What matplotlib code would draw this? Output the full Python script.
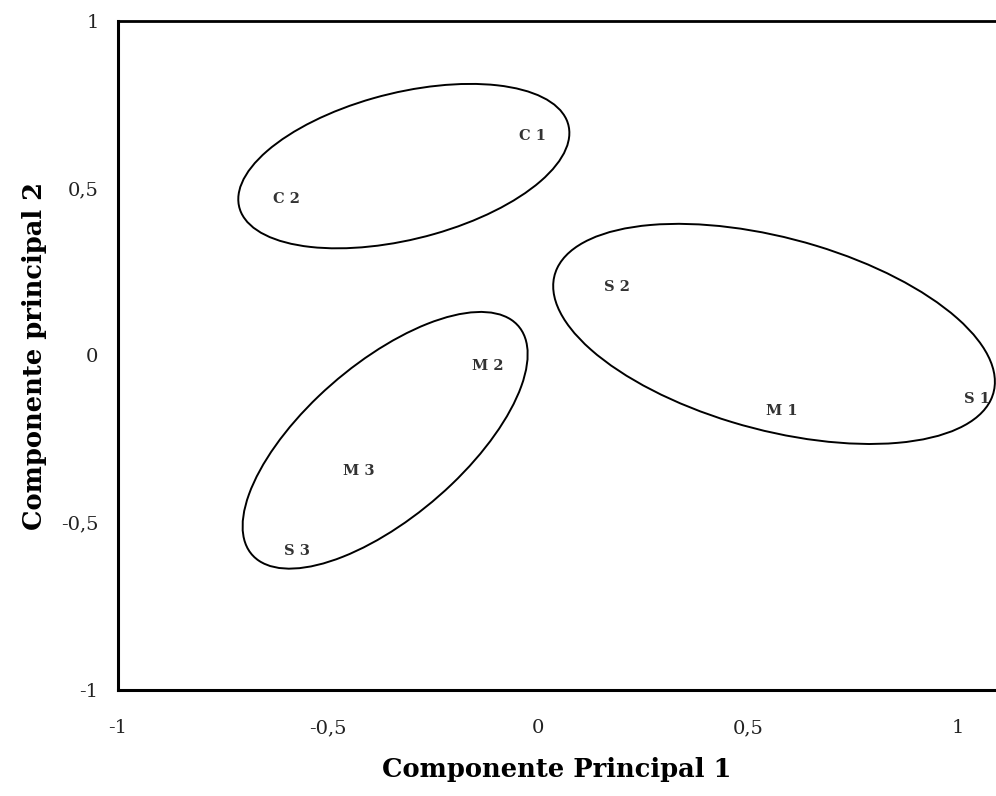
import matplotlib
matplotlib.use("Agg")
import matplotlib.pyplot as plt
from matplotlib.patches import Ellipse

# Sample scores (label positions)
labels = ["C 1", "C 2", "S 2", "M 1", "S 1", "M 2", "M 3", "S 3"]
pc1 = [-0.012, -0.60, 0.188, 0.58, 1.045, -0.12, -0.426, -0.574]
pc2 = [0.656, 0.467, 0.204, -0.165, -0.13, -0.033, -0.344, -0.584]

# Group ellipses: centre x, centre y, width, height, angle (data space)
ell_cx = [-0.3195, 0.562, -0.364]
ell_cy = [0.566, 0.0644, -0.2536]
ell_w = [0.823, 1.105, 0.938]
ell_h = [0.431, 0.564, 0.412]
ell_ang = [19.7, -20.9, 50.2]

xticks = [-1, -0.5, 0, 0.5, 1]
xticklabels = ["-1", "-0,5", "0", "0,5", "1"]
yticks = [-1, -0.5, 0, 0.5, 1]
yticklabels = ["-1", "-0,5", "0", "0,5", "1"]

plt.rcParams['font.family'] = ['DejaVu Serif']

fig = plt.figure(figsize=(9.96, 7.96), dpi=100)
ax = fig.add_axes([0.1185, 0.1332, 0.8815, 0.8405])
ax.set_xlim(-1, 1.0905)
ax.set_ylim(-1, 1)

for cx, cy, w, h, a in zip(ell_cx, ell_cy, ell_w, ell_h, ell_ang):
    ax.add_patch(Ellipse((cx, cy), w, h, angle=a, fill=False,
                         edgecolor='black', linewidth=1.4))

for lab, x, y in zip(labels, pc1, pc2):
    ax.text(x, y, lab, ha='center', va='center', fontsize=10.5,
            fontweight='bold', color='#333333')

ax.set_xticks(xticks)
ax.set_xticklabels(xticklabels)
ax.set_yticks(yticks)
ax.set_yticklabels(yticklabels)
ax.tick_params(axis='both', length=0, labelsize=14, colors='#222222')
ax.tick_params(axis='x', pad=21)
ax.tick_params(axis='y', pad=14)

ax.spines['right'].set_visible(False)
ax.spines['left'].set_linewidth(2.2)
ax.spines['bottom'].set_linewidth(2.2)
ax.spines['top'].set_linewidth(2.0)

ax.set_xlabel("Componente Principal 1", fontsize=18.5, fontweight='bold',
              labelpad=14)
ax.set_ylabel("Componente principal 2", fontsize=18.5, fontweight='bold',
              labelpad=10)

fig.savefig("out.png", dpi=100)
